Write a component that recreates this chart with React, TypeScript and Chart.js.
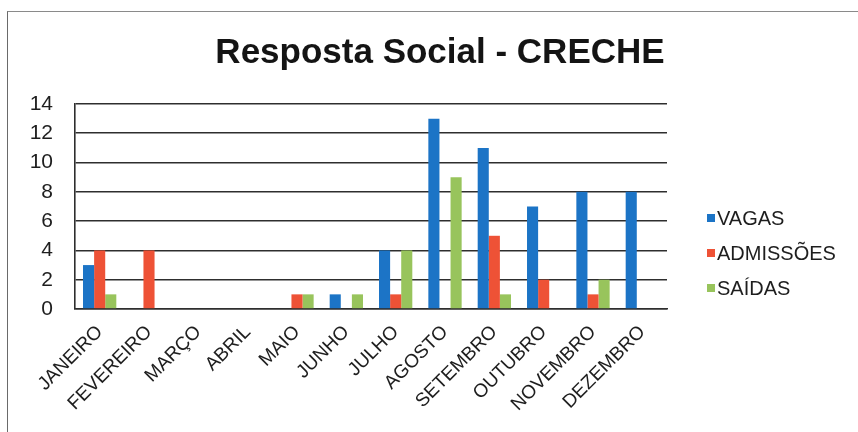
import React, { useEffect, useRef } from "react";
import { Chart, registerables } from "chart.js";

Chart.register(...registerables);

const TITLE = "Resposta Social - CRECHE";
const MONTHS = [
  "JANEIRO", "FEVEREIRO", "MARÇO", "ABRIL", "MAIO", "JUNHO",
  "JULHO", "AGOSTO", "SETEMBRO", "OUTUBRO", "NOVEMBRO", "DEZEMBRO",
];
const VAGAS = [3, 0, 0, 0, 0, 1, 4, 13, 11, 7, 8, 8];
const ADMISSOES = [4, 4, 0, 0, 1, 0, 1, 0, 5, 2, 1, 0];
const SAIDAS = [1, 0, 0, 0, 1, 1, 4, 9, 1, 0, 2, 0];
const SERIES_NAMES = ["VAGAS", "ADMISSÕES", "SAÍDAS"];
const COLORS = ["#1C74C6", "#EE5236", "#98C45C"];
const Y_MAX = 14;
const Y_STEP = 2;

const FONT = "'Liberation Sans', Arial, sans-serif";

const titleLegendPlugin = {
  id: "titleLegend",
  afterDraw(chart: any) {
    const ctx = chart.ctx;
    ctx.save();
    ctx.fillStyle = "#141414";
    ctx.font = `bold 35px ${FONT}`;
    ctx.textAlign = "center";
    ctx.textBaseline = "middle";
    ctx.fillText(TITLE, chart.width / 2, 41);

    ctx.font = `20px ${FONT}`;
    ctx.textAlign = "left";
    chart.data.datasets.forEach((ds: any, i: number) => {
      const cy = 206 + i * 35;
      ctx.fillStyle = ds.backgroundColor;
      ctx.fillRect(699, cy - 4, 8, 8);
      ctx.fillStyle = "#1e1e1e";
      ctx.fillText(ds.label, 709, cy + 1);
    });
    ctx.restore();
  },
};

export default function App() {
  const ref = useRef<HTMLCanvasElement>(null);
  useEffect(() => {
    if (!ref.current) return;
    const chart = new Chart(ref.current, {
      type: "bar",
      data: {
        labels: MONTHS,
        datasets: [
          { label: SERIES_NAMES[0], data: VAGAS, backgroundColor: COLORS[0] },
          { label: SERIES_NAMES[1], data: ADMISSOES, backgroundColor: COLORS[1] },
          { label: SERIES_NAMES[2], data: SAIDAS, backgroundColor: COLORS[2] },
        ],
      },
      options: {
        animation: false,
        responsive: false,
        maintainAspectRatio: false,
        layout: { padding: { top: 92, left: 0, right: 205, bottom: 0 } },
        datasets: { bar: { categoryPercentage: 0.675, barPercentage: 1.0 } },
        plugins: {
          legend: { display: false },
          title: { display: false },
          tooltip: { enabled: false },
        },
        scales: {
          x: {
            grid: { display: false, drawTicks: false },
            border: { display: true, color: "#2e2e2e", width: 1.5 },
            ticks: {
              minRotation: 45,
              maxRotation: 45,
              autoSkip: false,
              padding: 12,
              color: "#1e1e1e",
              font: { family: FONT, size: 19 },
            },
            afterFit(scale: any) {
              scale.height = 123;
            },
          },
          y: {
            min: 0,
            max: Y_MAX,
            ticks: {
              stepSize: Y_STEP,
              padding: 22,
              color: "#1e1e1e",
              font: { family: FONT, size: 21 },
            },
            grid: { color: "#2e2e2e", lineWidth: 1.6, drawTicks: false },
            border: { display: true, color: "#2e2e2e", width: 1.6 },
            afterFit(scale: any) {
              scale.width = 67;
            },
          },
        },
      },
      plugins: [titleLegendPlugin],
    });
    return () => chart.destroy();
  }, []);

  return (
    <div
      style={{
        position: "fixed",
        left: 0,
        top: 0,
        width: 858,
        height: 432,
        overflow: "hidden",
        background: "#fff",
      }}
    >
      <div
        style={{
          position: "absolute",
          left: 7,
          top: 11,
          width: 880,
          height: 440,
          borderLeft: "1.5px solid #6a6a6a",
          borderTop: "1.5px solid #8a8a8a",
        }}
      />
      <canvas
        ref={ref}
        width={864}
        height={420}
        style={{ position: "absolute", left: 8, top: 12, width: 864, height: 420 }}
      />
    </div>
  );
}
